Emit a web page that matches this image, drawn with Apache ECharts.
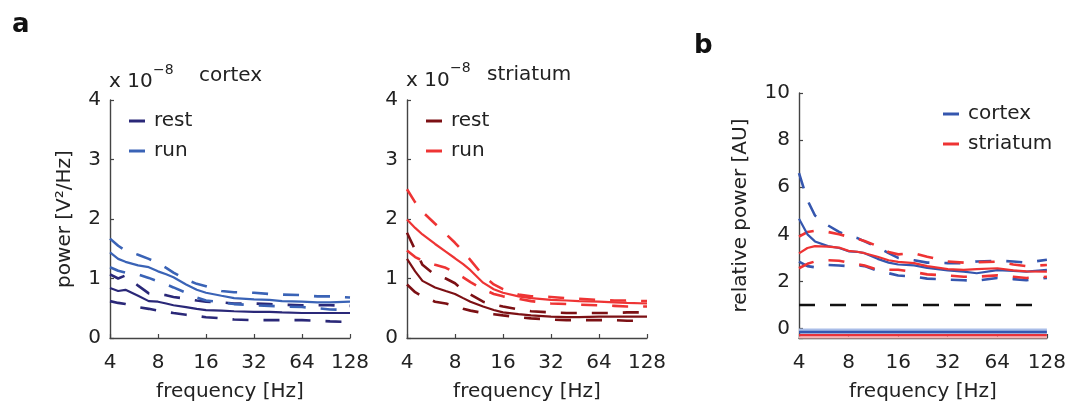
<!DOCTYPE html>
<html>
<head>
<meta charset="utf-8">
<script src="https://cdn.jsdelivr.net/npm/echarts@6/dist/echarts.min.js"></script>
<style>
html,body{margin:0;padding:0;background:#fff;}
#chart{width:1069px;height:407px;}
</style>
</head>
<body>
<div id="chart"></div>
<script>
// ---------- data ----------
const freqs = [4, 4.5, 5, 6, 7, 8, 9, 10, 12, 14, 16, 20, 24, 32, 40, 48, 64, 80, 96, 128];
const freqTicks = [4, 8, 16, 32, 64, 128];

// panel a, cortex (x 10^-8 V^2/Hz)
const cortexRunMean  = [1.44,1.33,1.28,1.22,1.19,1.12,1.07,1.02,0.90,0.81,0.76,0.71,0.67,0.65,0.64,0.62,0.61,0.60,0.60,0.61];
const cortexRunUpper = [1.67,1.55,1.47,1.40,1.33,1.26,1.18,1.10,0.98,0.91,0.87,0.79,0.77,0.76,0.74,0.73,0.72,0.70,0.70,0.68];
const cortexRunLower = [1.19,1.13,1.10,1.07,1.01,0.95,0.90,0.85,0.76,0.68,0.63,0.60,0.57,0.55,0.54,0.53,0.52,0.50,0.48,0.47];
const cortexRestMean  = [0.84,0.79,0.81,0.71,0.62,0.61,0.58,0.55,0.52,0.49,0.47,0.46,0.45,0.44,0.44,0.43,0.42,0.42,0.42,0.42];
const cortexRestUpper = [1.07,1.00,1.05,0.88,0.75,0.73,0.72,0.69,0.66,0.63,0.61,0.60,0.58,0.58,0.57,0.56,0.55,0.55,0.55,0.54];
const cortexRestLower = [0.62,0.59,0.57,0.52,0.49,0.46,0.44,0.42,0.39,0.37,0.35,0.33,0.31,0.30,0.30,0.30,0.30,0.29,0.28,0.27];

// panel a, striatum
const striRunMean  = [1.99,1.85,1.74,1.58,1.45,1.34,1.24,1.14,0.93,0.82,0.76,0.70,0.67,0.64,0.63,0.62,0.61,0.60,0.59,0.58];
const striRunUpper = [2.50,2.28,2.12,1.92,1.75,1.60,1.45,1.31,1.05,0.90,0.82,0.73,0.70,0.69,0.67,0.66,0.64,0.63,0.63,0.62];
const striRunLower = [1.47,1.36,1.30,1.23,1.18,1.10,1.02,0.94,0.82,0.74,0.70,0.66,0.62,0.58,0.57,0.56,0.55,0.54,0.53,0.53];
const striRestMean  = [1.33,1.12,0.96,0.85,0.79,0.74,0.67,0.61,0.53,0.47,0.43,0.40,0.38,0.36,0.35,0.35,0.36,0.36,0.36,0.36];
const striRestUpper = [1.77,1.48,1.23,1.06,1.00,0.92,0.80,0.73,0.61,0.56,0.53,0.48,0.45,0.43,0.42,0.42,0.42,0.42,0.43,0.43];
const striRestLower = [0.90,0.77,0.70,0.61,0.58,0.53,0.49,0.46,0.42,0.40,0.38,0.35,0.33,0.31,0.30,0.30,0.30,0.30,0.29,0.29];

// panel b, relative power
const relCortexMean  = [4.66,4.00,3.70,3.50,3.42,3.28,3.26,3.20,2.96,2.80,2.72,2.68,2.58,2.47,2.42,2.35,2.48,2.45,2.42,2.49];
const relCortexUpper = [6.60,5.45,4.80,4.38,4.10,3.95,3.85,3.70,3.45,3.20,3.00,2.90,2.80,2.78,2.78,2.85,2.88,2.85,2.80,2.92];
const relCortexLower = [2.84,2.65,2.60,2.70,2.68,2.65,2.70,2.65,2.45,2.35,2.25,2.20,2.12,2.08,2.05,2.03,2.15,2.10,2.05,2.15];
const relStriMean  = [3.19,3.42,3.50,3.48,3.44,3.30,3.26,3.20,3.05,2.90,2.83,2.78,2.65,2.52,2.49,2.52,2.56,2.47,2.43,2.42];
const relStriUpper = [3.90,4.10,4.15,4.10,4.00,3.90,3.82,3.72,3.50,3.25,3.15,3.20,3.05,2.85,2.80,2.82,2.84,2.72,2.65,2.70];
const relStriLower = [2.56,2.75,2.85,2.90,2.88,2.80,2.74,2.68,2.50,2.50,2.50,2.40,2.30,2.25,2.20,2.20,2.26,2.20,2.15,2.20];

const refLevel = 1;          // unity reference line
const sigCortex = -0.15;     // significance bar, cortex
const sigStriatum = -0.28;   // significance bar, striatum

// ---------- styling ----------
const FONT = 'DejaVu Sans';
const TXT = '#222';
const AX = '#444';
const C_REST = '#2a2878', C_RUN = '#3a63b6';
const S_REST = '#7c1014', S_RUN = '#ee3434';
const B_CTX = '#3556ae', B_STR = '#ee3333';
const DASH = [16, 15];

const pairs = arr => freqs.map((f, i) => [f, arr[i]]);
const flat = v => freqs.map(f => [f, v]);

function xAx(gi) {
  return {
    gridIndex: gi, type: 'log', logBase: 2, min: 4, max: 128, splitNumber: 5,
    axisLine: { show: true, onZero: false, lineStyle: { color: AX, width: 1.4 } },
    axisTick: { show: true, inside: true, length: 4, lineStyle: { color: AX, width: 1.2 } },
    splitLine: { show: false },
    axisLabel: { fontSize: 20, fontFamily: FONT, color: TXT, margin: 15,
      formatter: v => freqTicks.includes(Math.round(v)) ? String(Math.round(v)) : '' },
    name: 'frequency [Hz]', nameLocation: 'middle', nameGap: 44,
    nameTextStyle: { fontSize: 20, fontFamily: FONT, color: TXT }
  };
}
function yAx(gi, extra) {
  return Object.assign({
    gridIndex: gi, type: 'value',
    axisLine: { show: true, onZero: false, lineStyle: { color: AX, width: 1.4 } },
    axisTick: { show: true, inside: true, length: 4, lineStyle: { color: AX, width: 1.2 } },
    splitLine: { show: false },
    axisLabel: { fontSize: 20, fontFamily: FONT, color: TXT, margin: 9 },
    nameLocation: 'middle', nameRotate: 90,
    nameTextStyle: { fontSize: 20, fontFamily: FONT, color: TXT }
  }, extra);
}
function line(name, gi, data, color, dashed, width) {
  return {
    name, type: 'line', xAxisIndex: gi, yAxisIndex: gi, data,
    symbol: 'none', silent: true, animation: false,
    lineStyle: { color, width: width || (dashed ? 2.6 : 2.2), type: dashed ? DASH : 'solid' },
    itemStyle: { color }
  };
}

const labelMap = {
  c_rest: 'rest', c_run: 'run', s_rest: 'rest', s_run: 'run',
  b_ctx: 'cortex', b_str: 'striatum'
};
function legend(names, left, top) {
  return {
    data: names, left, top, orient: 'vertical', icon: 'rect',
    itemWidth: 16, itemHeight: 3, itemGap: 10, selectedMode: false,
    formatter: n => labelMap[n],
    textStyle: { fontSize: 20, fontFamily: FONT, color: TXT, padding: [0, 0, 0, 4] }
  };
}

const option = {
  backgroundColor: '#fff',
  animation: false,
  grid: [
    { left: 110, top: 100, width: 240, height: 240 },
    { left: 407, top: 100, width: 240, height: 240 },
    { left: 799, top: 93, width: 248, height: 247 }
  ],
  xAxis: [xAx(0), xAx(1), xAx(2)],
  yAxis: [
    yAx(0, { min: 0, max: 4, interval: 1, name: 'power [V²/Hz]', nameGap: 35 }),
    yAx(1, { min: 0, max: 4, interval: 1 }),
    yAx(2, { min: -0.4, max: 10, splitNumber: 5, minInterval: 2, maxInterval: 2,
      name: 'relative power [AU]', nameGap: 48,
      axisLabel: { fontSize: 20, fontFamily: FONT, color: TXT, margin: 9,
        formatter: v => (Math.abs(v % 2) < 1e-6 ? String(Math.round(v)) : '') } })
  ],
  legend: [
    legend(['c_rest', 'c_run'], 124, 106),
    legend(['s_rest', 's_run'], 421, 106),
    legend(['b_ctx', 'b_str'], 938, 99)
  ],
  series: [
    // cortex
    line('c_rest_u', 0, pairs(cortexRestUpper), C_REST, true),
    line('c_rest_l', 0, pairs(cortexRestLower), C_REST, true),
    line('c_run_u', 0, pairs(cortexRunUpper), C_RUN, true),
    line('c_run_l', 0, pairs(cortexRunLower), C_RUN, true),
    line('c_rest', 0, pairs(cortexRestMean), C_REST, false),
    line('c_run', 0, pairs(cortexRunMean), C_RUN, false),
    // striatum
    line('s_rest_u', 1, pairs(striRestUpper), S_REST, true),
    line('s_rest_l', 1, pairs(striRestLower), S_REST, true),
    line('s_run_u', 1, pairs(striRunUpper), S_RUN, true),
    line('s_run_l', 1, pairs(striRunLower), S_RUN, true),
    line('s_rest', 1, pairs(striRestMean), S_REST, false),
    line('s_run', 1, pairs(striRunMean), S_RUN, false),
    // panel b
    line('ref', 2, flat(refLevel), '#111', true, 2.6),
    line('b_ctx_u', 2, pairs(relCortexUpper), B_CTX, true),
    line('b_ctx_l', 2, pairs(relCortexLower), B_CTX, true),
    line('b_str_u', 2, pairs(relStriUpper), B_STR, true),
    line('b_str_l', 2, pairs(relStriLower), B_STR, true),
    line('b_ctx', 2, pairs(relCortexMean), B_CTX, false),
    line('b_str', 2, pairs(relStriMean), B_STR, false),
    (() => { const s = line('sig_ctx', 2, flat(sigCortex), '#3557b0', false, 2.6);
      s.lineStyle.shadowColor = '#a9bde8'; s.lineStyle.shadowOffsetY = -2.2; s.lineStyle.shadowBlur = 0; return s; })(),
    (() => { const s = line('sig_str', 2, flat(sigStriatum), '#e8323a', false, 2.4);
      s.lineStyle.shadowColor = '#f5b4b4'; s.lineStyle.shadowOffsetY = 2.2; s.lineStyle.shadowBlur = 0; return s; })()
  ],
  graphic: [
    { type: 'text', x: 12, y: 25, style: { text: 'a', font: 'bold 26px "DejaVu Sans"', fill: '#111', align: 'left', verticalAlign: 'middle' } },
    { type: 'text', x: 694, y: 46, style: { text: 'b', font: 'bold 26px "DejaVu Sans"', fill: '#111', align: 'left', verticalAlign: 'middle' } },
    { type: 'text', x: 109, y: 82, style: { text: 'x 10', font: '20px "DejaVu Sans"', fill: TXT, align: 'left', verticalAlign: 'middle' } },
    { type: 'text', x: 153, y: 70, style: { text: '−8', font: '14px "DejaVu Sans"', fill: TXT, align: 'left', verticalAlign: 'middle' } },
    { type: 'text', x: 199, y: 76, style: { text: 'cortex', font: '20px "DejaVu Sans"', fill: TXT, align: 'left', verticalAlign: 'middle' } },
    { type: 'text', x: 406, y: 81, style: { text: 'x 10', font: '20px "DejaVu Sans"', fill: TXT, align: 'left', verticalAlign: 'middle' } },
    { type: 'text', x: 450, y: 68, style: { text: '−8', font: '14px "DejaVu Sans"', fill: TXT, align: 'left', verticalAlign: 'middle' } },
    { type: 'text', x: 487, y: 75, style: { text: 'striatum', font: '20px "DejaVu Sans"', fill: TXT, align: 'left', verticalAlign: 'middle' } }
  ]
};

const chart = echarts.init(document.getElementById('chart'), null, { renderer: 'canvas' });
chart.setOption(option);
</script>
</body>
</html>
